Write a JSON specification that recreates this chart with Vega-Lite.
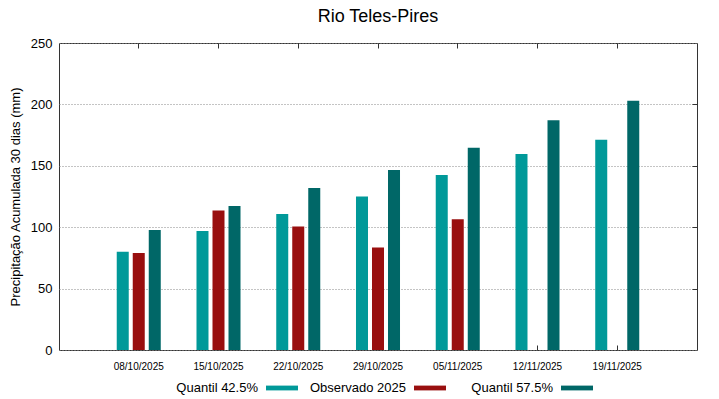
{
  "$schema": "https://vega.github.io/schema/vega-lite/v6.json",
  "width": 638,
  "height": 307,
  "autosize": {"type": "none"},
  "padding": {"left": 59, "top": 43, "right": 22, "bottom": 49},
  "background": "white",
  "title": {"text": "Rio Teles-Pires", "fontSize": 18, "font": "Liberation Sans", "fontWeight": "normal", "color": "#000", "offset": 11, "anchor": "middle"},
  "config": {
    "font": "Liberation Sans",
    "view": {"stroke": "#333", "strokeWidth": 1},
    "axis": {"domain": false, "labelColor": "#000", "titleColor": "#000", "labelFont": "Liberation Sans", "titleFont": "Liberation Sans", "tickColor": "#333"},
    "legend": {"title": null, "orient": "none", "direction": "horizontal", "legendY": 329,
      "symbolType": "M-1,-0.15L1,-0.15L1,0.15L-1,0.15Z", "symbolSize": 1024, "symbolStrokeWidth": 0,
      "labelFontSize": 13, "labelAlign": "right", "labelOffset": -40, "labelLimit": 200, "labelColor": "#000"}
  },
  "data": {"values": [
    {"data": "08/10/2025", "serie": "Quantil 42.5%", "valor": 80},
    {"data": "08/10/2025", "serie": "Observado 2025", "valor": 79},
    {"data": "08/10/2025", "serie": "Quantil 57.5%", "valor": 97.7},
    {"data": "15/10/2025", "serie": "Quantil 42.5%", "valor": 97},
    {"data": "15/10/2025", "serie": "Observado 2025", "valor": 113.5},
    {"data": "15/10/2025", "serie": "Quantil 57.5%", "valor": 117.2},
    {"data": "22/10/2025", "serie": "Quantil 42.5%", "valor": 110.7},
    {"data": "22/10/2025", "serie": "Observado 2025", "valor": 100.5},
    {"data": "22/10/2025", "serie": "Quantil 57.5%", "valor": 132},
    {"data": "29/10/2025", "serie": "Quantil 42.5%", "valor": 125},
    {"data": "29/10/2025", "serie": "Observado 2025", "valor": 83.5},
    {"data": "29/10/2025", "serie": "Quantil 57.5%", "valor": 146.6},
    {"data": "05/11/2025", "serie": "Quantil 42.5%", "valor": 142.5},
    {"data": "05/11/2025", "serie": "Observado 2025", "valor": 106.4},
    {"data": "05/11/2025", "serie": "Quantil 57.5%", "valor": 164.7},
    {"data": "12/11/2025", "serie": "Quantil 42.5%", "valor": 159.6},
    {"data": "12/11/2025", "serie": "Quantil 57.5%", "valor": 187},
    {"data": "19/11/2025", "serie": "Quantil 42.5%", "valor": 171.3},
    {"data": "19/11/2025", "serie": "Quantil 57.5%", "valor": 203}
  ]},
  "encoding": {
    "x": {"field": "data", "type": "ordinal", "sort": null, "title": null,
      "scale": {"paddingInner": 0.448, "paddingOuter": 0.724}},
    "xOffset": {"field": "serie", "type": "nominal",
      "scale": {"domain": ["Quantil 42.5%", "Observado 2025", "Quantil 57.5%"], "paddingInner": 0.25, "paddingOuter": 0}},
    "y": {"field": "valor", "type": "quantitative", "scale": {"domain": [0, 250], "nice": false}}
  },
  "layer": [
    {
      "transform": [{"filter": "datum.serie === 'Quantil 42.5%'"}],
      "mark": {"type": "bar"},
      "encoding": {
        "x": {"field": "data", "type": "ordinal", "sort": null, "title": null,
          "axis": {"orient": "bottom", "labelAngle": 0, "labelFontSize": 10, "tickSize": -5, "labelPadding": 16, "grid": false}},
        "y": {"field": "valor", "type": "quantitative", "title": "Precipitação Acumulada 30 dias (mm)",
          "axis": {"orient": "left", "values": [0, 50, 100, 150, 200, 250], "labelFontSize": 13, "titleFontSize": 13, "titleFontWeight": "normal", "ticks": false, "labelPadding": 7, "titlePadding": 8,
            "grid": true, "gridColor": "#888", "gridDash": [1, 2], "gridWidth": 1}},
        "color": {"field": "serie", "type": "nominal",
          "scale": {"domain": ["Quantil 42.5%"], "range": ["#009999"]},
          "legend": {"legendX": 207}}
      }
    },
    {
      "transform": [{"filter": "datum.serie === 'Observado 2025'"}],
      "mark": {"type": "bar"},
      "encoding": {
        "x": {"field": "data", "type": "ordinal", "sort": null, "axis": null},
        "y": {"field": "valor", "type": "quantitative", "axis": null},
        "color": {"field": "serie", "type": "nominal",
          "scale": {"domain": ["Observado 2025"], "range": ["#990f0f"]},
          "legend": {"legendX": 355}}
      }
    },
    {
      "transform": [{"filter": "datum.serie === 'Quantil 57.5%'"}],
      "mark": {"type": "bar"},
      "encoding": {
        "x": {"field": "data", "type": "ordinal", "sort": null, "axis": null},
        "y": {"field": "valor", "type": "quantitative", "axis": null},
        "color": {"field": "serie", "type": "nominal",
          "scale": {"domain": ["Quantil 57.5%"], "range": ["#006767"]},
          "legend": {"legendX": 502}}
      }
    },
    {
      "mark": {"type": "point", "opacity": 0},
      "encoding": {
        "x": {"field": "data", "type": "ordinal", "sort": null, "title": null,
          "axis": {"orient": "top", "labels": false, "tickSize": -5, "grid": false}},
        "y": {"field": "valor", "type": "quantitative", "title": null,
          "axis": {"orient": "right", "labels": false, "tickSize": -5, "values": [50, 100, 150, 200], "grid": false}}
      }
    }
  ],
  "resolve": {"axis": {"x": "independent", "y": "independent"}, "scale": {"color": "independent"}}
}
